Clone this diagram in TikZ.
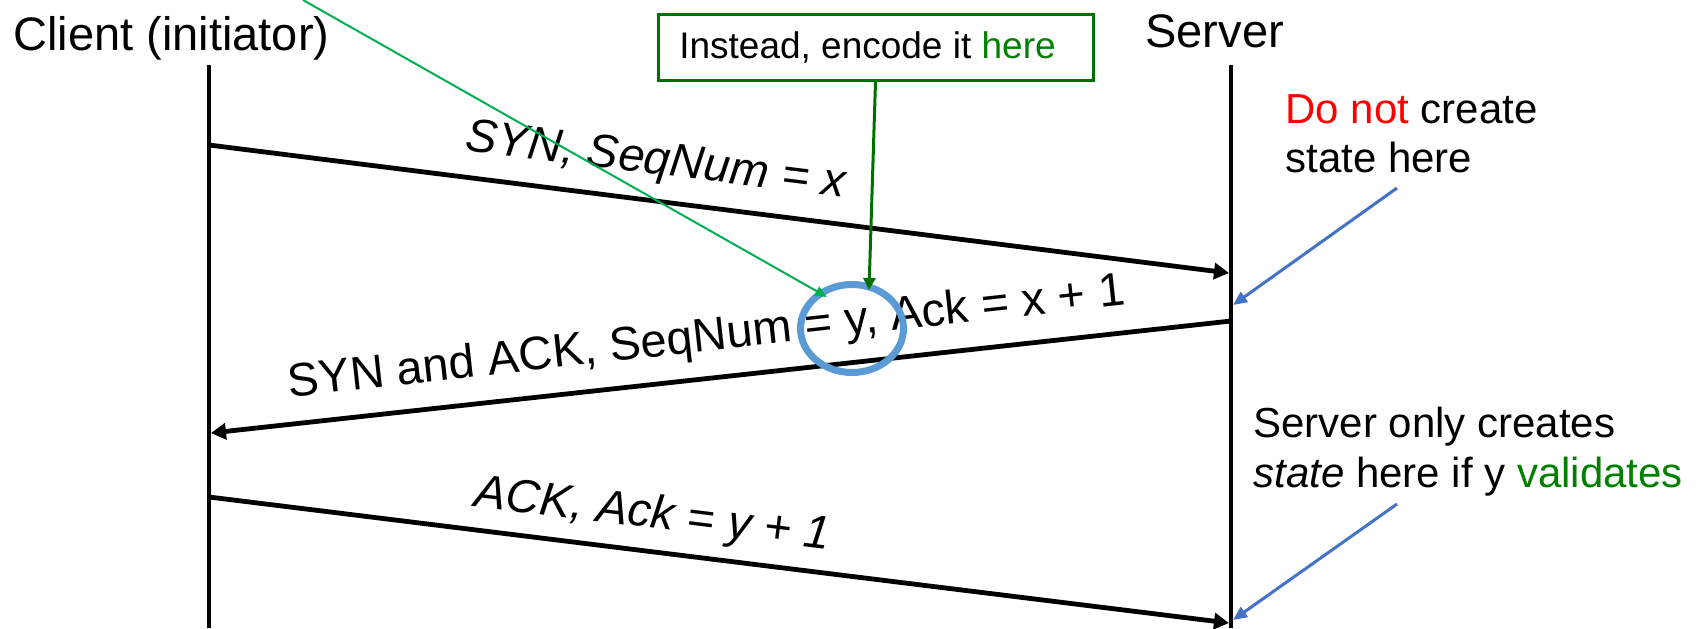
\documentclass[tikz,border=0pt]{standalone}
\usepackage{fontspec}
\setmainfont{Liberation Sans}
\usetikzlibrary{arrows.meta,shapes.geometric}
\definecolor{boxgreen}{RGB}{0,112,0}
\definecolor{txtgreen}{RGB}{0,128,0}
\definecolor{lightgreen}{RGB}{0,176,80}
\definecolor{noteblue}{RGB}{68,114,196}
\definecolor{ringblue}{RGB}{91,155,213}
\begin{document}
\begin{tikzpicture}[x=0.5pt,y=-0.5pt,
  lifeline/.style={line width=2.4pt},
  msg/.style={line width=2.4pt,-{Triangle[length=7.5pt,width=8pt]}},
  lbl/.style={font=\fontsize{23.5}{28}\selectfont, inner sep=0pt, anchor=base},
  head/.style={font=\fontsize{23.5}{28}\selectfont, inner sep=0pt, anchor=base west},
  note/.style={font=\fontsize{21}{25}\selectfont, inner sep=0pt, anchor=base west},
  bluearrow/.style={noteblue, line width=1.5pt, -{Triangle[length=7pt,width=6pt]}},
  greenbox/.style={draw=boxgreen, line width=1.5pt, inner sep=0pt,
    minimum width=217.5pt, minimum height=33pt, font=\fontsize{18.5}{22}\selectfont},
  darkgreenarrow/.style={boxgreen, line width=1.5pt, -{Triangle[length=6pt,width=6pt]}},
  lightgreenarrow/.style={lightgreen, line width=1pt, -{Triangle[length=6pt,width=5pt]}},
  ring/.style={ellipse, draw=ringblue, line width=3.5pt, inner sep=0pt,
    minimum width=51.5pt, minimum height=44pt},
]
\useasboundingbox (0,0) rectangle (1698,628);

% headers
\node[head] (client) at (13,50) {Client (initiator)};
\node[head] (server) at (1145,47) {Server};

% lifelines
\coordinate (cltop) at (209,65);
\coordinate (clbot) at (209,628);
\coordinate (svtop) at (1231,65);
\coordinate (svbot) at (1231,628);
\draw[lifeline] (cltop) -- (clbot);
\draw[lifeline] (svtop) -- (svbot);

% messages
\coordinate (m1a) at (209,145);
\coordinate (m1b) at (1229,273);
\coordinate (m2a) at (1231,321);
\coordinate (m2b) at (211,433);
\coordinate (m3a) at (209,497);
\coordinate (m3b) at (1229,623);
\draw[msg] (m1a) -- (m1b);
\draw[msg] (m2a) -- (m2b);
\draw[msg] (m3a) -- (m3b);

\node[lbl, rotate=-7] (l1) at (654,174) {\itshape SYN, SeqNum = x};
\node[lbl, rotate=6.3] (l2) at (708,351) {SYN and ACK, SeqNum = y, Ack = x + 1};
\node[lbl, rotate=-7] (l3) at (651,528) {\itshape ACK, Ack = y + 1};

% ring around y
\node[ring] (ring) at (852,328.5) {};

% green box and arrows
\node[greenbox] (box) at (875.5,47) {Instead, encode it \textcolor{txtgreen}{here}\kern8pt\null};
\coordinate (tipB) at (869,290);
\draw[darkgreenarrow] (box.south) -- (tipB);
\coordinate (gstart) at (303,0);
\coordinate (tipA) at (827,297);
\draw[lightgreenarrow] (gstart) -- (tipA);

% notes
\node[note] (n1a) at (1285,123) {\textcolor{red}{Do not} create};
\node[note] (n1b) at (1285,172) {state here};
\coordinate (n1s) at (1397,188);
\coordinate (n1e) at (1233,305);
\draw[bluearrow] (n1s) -- (n1e);

\node[note] (n2a) at (1253,437) {Server only creates};
\node[note] (n2b) at (1253,487) {\textit{state} here if y \textcolor{txtgreen}{validates}};
\coordinate (n2s) at (1397,504);
\coordinate (n2e) at (1233,620);
\draw[bluearrow] (n2s) -- (n2e);
\end{tikzpicture}
\end{document}
